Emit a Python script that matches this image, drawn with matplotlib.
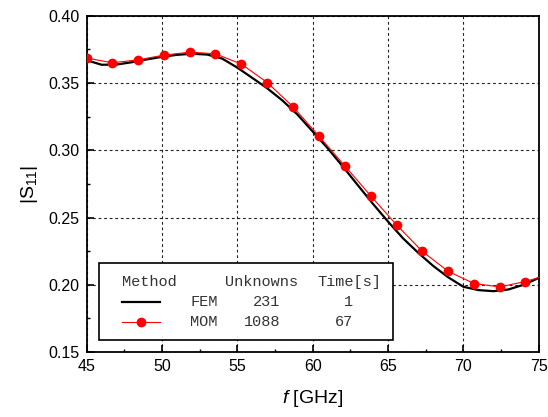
import matplotlib
matplotlib.use('Agg')
import matplotlib.pyplot as plt
from matplotlib.lines import Line2D
from matplotlib.patches import Rectangle

plt.rcParams['font.family'] = ['Liberation Sans', 'DejaVu Sans']
plt.rcParams['mathtext.fontset'] = 'custom'
plt.rcParams['mathtext.rm'] = 'Liberation Sans'
plt.rcParams['mathtext.it'] = 'Liberation Sans:italic'

# FEM reference curve
fem_freq = [45, 46, 47, 48, 49, 50, 51, 52, 53, 54, 55, 56, 57, 58, 59, 60,
            61, 62, 63, 64, 65, 66, 67, 68, 69, 70, 71, 72, 73, 74, 75]
fem_s11 = [0.3670, 0.3636, 0.3638, 0.3655, 0.3676, 0.3695, 0.3710, 0.3718,
           0.3712, 0.3682, 0.3615, 0.3538, 0.3460, 0.3370, 0.3265, 0.3140,
           0.3015, 0.2880, 0.2740, 0.2602, 0.2470, 0.2345, 0.2238, 0.2140,
           0.2055, 0.1985, 0.1960, 0.1952, 0.1965, 0.2000, 0.2050]

# MOM samples (markers) + curve end at 75 GHz
mom_freq = [45.0, 46.71, 48.43, 50.14, 51.86, 53.54, 55.27, 56.99, 58.71,
            60.40, 62.12, 63.87, 65.57, 67.27, 68.99, 70.70, 72.42, 74.12, 75.0]
mom_s11 = [0.3686, 0.3651, 0.3673, 0.3708, 0.3730, 0.3718, 0.3641, 0.3504,
           0.3322, 0.3108, 0.2886, 0.2659, 0.2445, 0.2249, 0.2100, 0.2009,
           0.1984, 0.2024, 0.2053]

# legend table
methods = ['FEM', 'MOM']
unknowns = ['231', '1088']
times = ['1', '67']

fig = plt.figure(figsize=(5.48, 4.17), dpi=100)
ax = fig.add_axes([0.158, 0.156, 0.825, 0.806])

ax.plot(fem_freq, fem_s11, color='black', lw=1.6, zorder=3)
ax.plot(mom_freq, mom_s11, color='red', lw=0.8, marker='o', ms=6,
        markevery=list(range(len(mom_freq) - 1)), zorder=4)

ax.set_xlim(45, 75)
ax.set_ylim(0.15, 0.40)
ax.set_xticks(range(45, 76, 5))
ax.set_yticks([0.15, 0.20, 0.25, 0.30, 0.35, 0.40])
ax.set_yticklabels(['0.15', '0.20', '0.25', '0.30', '0.35', '0.40'])
ax.set_xticks([47.5 + 5 * i for i in range(6)], minor=True)
ax.set_yticks([0.175 + 0.05 * i for i in range(5)], minor=True)
ax.tick_params(which='major', direction='in', length=5, width=1.2,
               labelsize=11.5, pad=5)
ax.tick_params(which='minor', direction='in', length=2.5, width=1.0)
ax.grid(True, which='major', color='#222222', ls=(0, (2.5, 2.5)), lw=0.8)
for s in ax.spines.values():
    s.set_linewidth(1.3)

ax.set_xlabel(r'$\mathit{f}$ [GHz]', fontsize=14, labelpad=10)
ax.set_ylabel(r'$|\mathrm{S}_{11}|$', fontsize=14, labelpad=6)

# legend box drawn in pixel-derived axes fractions
def fx(px):
    return (px - 86.5) / 452.0

def fy(py):
    return (352.0 - py) / 336.0

ax.add_patch(Rectangle((fx(98.5), fy(340.5)), fx(392.5) - fx(98.5),
                       fy(263.5) - fy(340.5), transform=ax.transAxes,
                       facecolor='white', edgecolor='black', lw=1.2, zorder=5))
mono = dict(family='Liberation Mono', fontsize=11, color='#333333',
            transform=ax.transAxes, va='center', zorder=6)
ax.text(fx(122), fy(282.5), 'Method', ha='left', **mono)
ax.text(fx(225), fy(282.5), 'Unknowns', ha='left', **mono)
ax.text(fx(317), fy(282.5), 'Time[s]', ha='left', **mono)
row_y = [302.5, 322.5]
ax.add_line(Line2D([fx(122), fx(160)], [fy(row_y[0])] * 2, color='black',
                   lw=1.6, transform=ax.transAxes, zorder=6))
ax.add_line(Line2D([fx(122), fx(160)], [fy(row_y[1])] * 2, color='red',
                   lw=0.8, transform=ax.transAxes, zorder=6))
ax.add_line(Line2D([fx(141)], [fy(row_y[1])], color='red', marker='o', ms=6,
                   transform=ax.transAxes, zorder=7))
for i in range(2):
    ax.text(fx(190), fy(row_y[i]), methods[i], ha='left', **mono)
    ax.text(fx(280), fy(row_y[i]), unknowns[i], ha='right', **mono)
    ax.text(fx(353), fy(row_y[i]), times[i], ha='right', **mono)

fig.savefig('out.png', dpi=100)
